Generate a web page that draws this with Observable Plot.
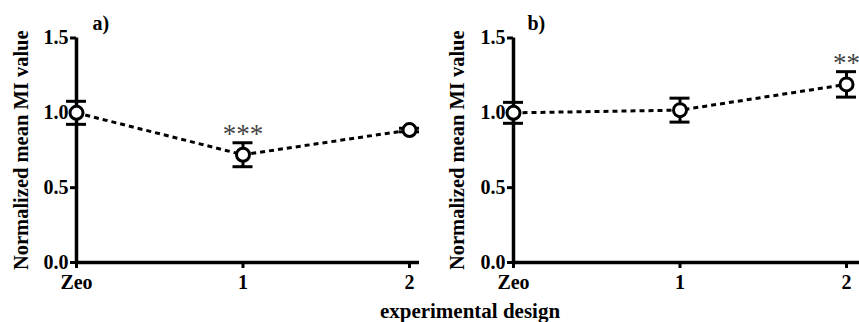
<!DOCTYPE html>
<html>
<head>
<meta charset="utf-8">
<script src="https://cdn.jsdelivr.net/npm/d3@7"></script>
<script src="https://cdn.jsdelivr.net/npm/@observablehq/plot@0.6"></script>
<style>
  html, body { margin: 0; padding: 0; background: white; }
  #wrap { position: relative; width: 859px; height: 322px; overflow: hidden; font-family: "Liberation Serif", "Times New Roman", serif; }
  #pa { position: absolute; left: 0; top: 0; }
  #pb { position: absolute; left: 430px; top: 0; }
  #cap { position: absolute; left: 370px; top: 301px; width: 200px; text-align: center; font-weight: bold; font-size: 21px; line-height: 21px; white-space: nowrap; }
</style>
</head>
<body>
<div id="wrap">
  <div id="pa"></div>
  <div id="pb"></div>
  <div id="cap">experimental design</div>
</div>
<script>
const categories = ["Zeo", "1", "2"];
const yTicks = [0, 0.5, 1.0, 1.5];
const meanA = [1.0, 0.72, 0.885];
const errA = [0.077, 0.08, 0.012];
const sigA = ["", "***", ""];
const meanB = [1.0, 1.018, 1.19];
const errB = [0.07, 0.08, 0.085];
const sigB = ["", "", "**"];
const panelLabels = ["a)", "b)"];
const yLabel = "Normalized mean MI value";

const FONT = "'Liberation Serif', 'Times New Roman', serif";
const capHalf = 0.06;

function panel(means, errs, sigs, tag, opts) {
  const data = categories.map((c, i) => ({x: i, cat: c, m: means[i], e: errs[i], s: sigs[i]}));
  return Plot.plot({
    width: opts.width,
    height: 300,
    marginLeft: opts.marginLeft,
    marginRight: opts.marginRight,
    marginTop: 37.5,
    marginBottom: 38,
    style: {fontFamily: FONT, fontSize: "20px", fontWeight: "bold", background: "white", overflow: "visible", color: "black"},
    x: {domain: [0, opts.xmax]},
    y: {domain: [0, 1.5]},
    marks: [
      Plot.axisY({ticks: yTicks, tickFormat: d3.format(".1f"), tickSize: 6, tickPadding: 2, strokeWidth: 3, label: null, fontSize: 20, fontWeight: "bold"}),
      Plot.axisX({ticks: [0, 1, 2], tickFormat: d => categories[d], tickSize: 6, tickPadding: 6, strokeWidth: 3, label: null, fontSize: 20, fontWeight: "bold"}),
      Plot.ruleX([0], {strokeWidth: 3.5}),
      Plot.ruleY([0], {strokeWidth: 3.5}),
      Plot.line(data, {x: "x", y: "m", stroke: "black", strokeWidth: 3, strokeDasharray: "5,4", strokeLinecap: "butt"}),
      Plot.ruleX(data, {x: "x", y1: d => d.m - d.e, y2: d => d.m + d.e, stroke: "black", strokeWidth: 3}),
      Plot.ruleY(data, {y: d => d.m + d.e, x1: d => d.x - capHalf, x2: d => d.x + capHalf, stroke: "black", strokeWidth: 3}),
      Plot.ruleY(data, {y: d => d.m - d.e, x1: d => d.x - capHalf, x2: d => d.x + capHalf, stroke: "black", strokeWidth: 3}),
      Plot.dot(data, {x: "x", y: "m", r: 6.5, fill: "white", stroke: "black", strokeWidth: 3}),
      Plot.text(data.filter(d => d.s), {x: "x", y: d => d.m + d.e, text: "s", dy: 0, lineAnchor: "bottom", fontSize: 27, fontWeight: "normal", fill: "#444"}),
      Plot.text([tag], {frameAnchor: "top-left", dx: opts.tagDx, dy: -22, lineAnchor: "top", fontSize: 20, fontWeight: "bold", textAnchor: "start"}),
      Plot.text([yLabel], {frameAnchor: "left", dx: -opts.labelOff, rotate: -90, textAnchor: "middle", fontSize: 20.5, fontWeight: "bold", lineAnchor: "middle"})
    ]
  });
}

document.getElementById("pa").append(panel(meanA, errA, sigA, panelLabels[0], {width: 430, marginLeft: 76, marginRight: 11, xmax: 2.06, tagDx: 16, labelOff: 55}));
document.getElementById("pb").append(panel(meanB, errB, sigB, panelLabels[1], {width: 429, marginLeft: 83, marginRight: 0, xmax: 2.078, tagDx: 14, labelOff: 56}));
</script>
</body>
</html>
